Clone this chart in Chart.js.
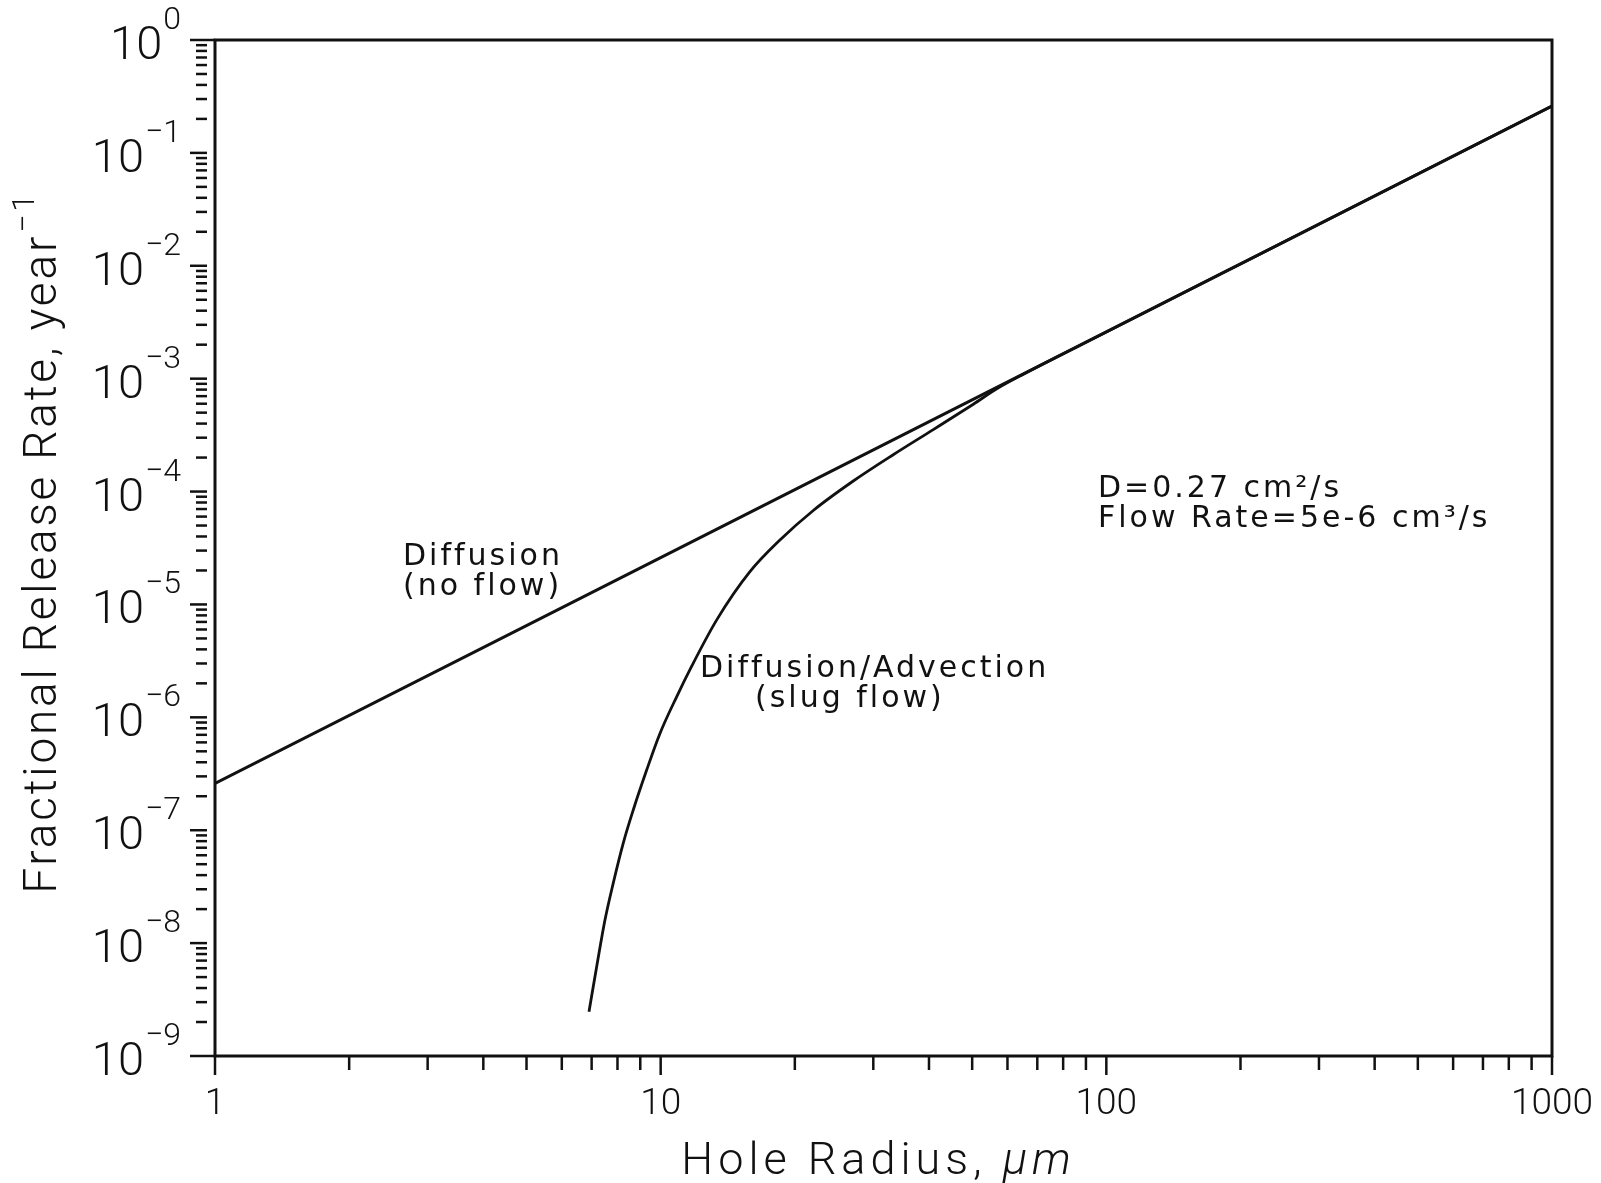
<!DOCTYPE html>
<html>
<head>
<meta charset="utf-8">
<script src="https://cdn.jsdelivr.net/npm/chart.js@4.4.1/dist/chart.umd.min.js"></script>
<style>
  html, body { margin: 0; padding: 0; background: #fff; }
  #wrap { width: 1601px; height: 1183px; }
</style>
</head>
<body>
<div id="wrap"><canvas id="releaseChart"></canvas></div>
<script>
// hole radius (um) vs fractional release rate (1/year)
const diffusionRadius = [1, 10, 100, 1000];
const diffusionRate = [2.6e-7, 2.6e-5, 2.6e-3, 2.6e-1];

const advectionRadius = [6.905, 7.186, 7.499, 7.827, 8.243, 8.679, 9.302, 9.964, 10.86, 11.74, 13.36, 15.86,
    18.52, 22.0, 27.05, 33.25, 40.9, 50.3, 57, 65, 100, 200, 500, 1000];
const advectionRate = [2.47e-9, 6.2e-9, 1.6e-8, 3.4e-8, 7.7e-8, 1.51e-7, 3.41e-7, 7.2e-7, 1.52e-6, 2.84e-6, 7.3e-6, 1.95e-5,
    3.72e-5, 6.8e-5, 1.24e-4, 2.12e-4, 3.54e-4, 5.94e-4, 8.2e-4, 1.09e-3, 2.59e-3, 1.038e-2, 6.49e-2, 2.6e-1];

const xTickValues = [1, 10, 100, 1000];
const xTickLabels = ['1', '10', '100', '1000'];
const yTickExponents = [0, -1, -2, -3, -4, -5, -6, -7, -8, -9];
const minorSteps = [2, 3, 4, 5, 6, 7, 8, 9];

const INK = '#111';
const LABEL_FONT = 'Roboto, "Open Sans", sans-serif';
const NOTE_FONT = '"DejaVu Sans", sans-serif';

function toPoints(xs, ys) {
    return xs.map((v, i) => ({ x: v, y: ys[i] }));
}

// axes, tick labels, titles and notes are drawn by hand to get the old plotter look
const scanAxes = {
    id: 'scanAxes',
    afterDraw(chart) {
        const ctx = chart.ctx;
        const a = chart.chartArea;
        const x = chart.scales.x;
        const y = chart.scales.y;
        ctx.save();
        ctx.strokeStyle = INK;
        ctx.fillStyle = INK;

        // frame
        ctx.lineWidth = 3;
        ctx.strokeRect(a.left, a.top, a.right - a.left, a.bottom - a.top);

        // x ticks (outside, pointing down)
        ctx.lineWidth = 2.5;
        xTickValues.forEach((v, i) => {
            const px = x.getPixelForValue(v);
            ctx.beginPath();
            ctx.moveTo(px, a.bottom);
            ctx.lineTo(px, a.bottom + 19);
            ctx.stroke();
            if (i < xTickValues.length - 1) {
                minorSteps.forEach(m => {
                    const mx = x.getPixelForValue(v * m);
                    ctx.beginPath();
                    ctx.moveTo(mx, a.bottom);
                    ctx.lineTo(mx, a.bottom + 14);
                    ctx.stroke();
                });
            }
        });

        // y ticks (outside, slightly detached from the axis)
        yTickExponents.forEach((e, i) => {
            const py = y.getPixelForValue(Math.pow(10, e));
            const edge = (i === 0 || i === yTickExponents.length - 1);
            ctx.beginPath();
            ctx.moveTo(a.left - 25, py);
            ctx.lineTo(edge ? a.left : a.left - 8, py);
            ctx.stroke();
            if (e > -9) {
                minorSteps.forEach(m => {
                    const my = y.getPixelForValue(Math.pow(10, e - 1) * m);
                    ctx.beginPath();
                    ctx.moveTo(a.left - 19, my);
                    ctx.lineTo(a.left - 8, my);
                    ctx.stroke();
                });
            }
        });

        // y tick labels 10^n
        ctx.textBaseline = 'alphabetic';
        ctx.textAlign = 'left';
        yTickExponents.forEach(e => {
            const py = y.getPixelForValue(Math.pow(10, e));
            const sup = e === 0 ? '0' : '\u2212' + Math.abs(e);
            ctx.font = '300 47px ' + LABEL_FONT;
            const wBase = ctx.measureText('10').width;
            ctx.font = '300 32px ' + LABEL_FONT;
            const wSup = ctx.measureText(sup).width;
            const right = a.left - 34;
            ctx.font = '300 47px ' + LABEL_FONT;
            ctx.fillText('10', right - wSup - wBase - 1, py + 19);
            ctx.font = '300 32px ' + LABEL_FONT;
            ctx.fillText(sup, right - wSup, py - 11);
        });

        // x tick labels
        ctx.font = '300 37px ' + LABEL_FONT;
        ctx.textAlign = 'center';
        xTickValues.forEach((v, i) => {
            ctx.fillText(xTickLabels[i], x.getPixelForValue(v), a.bottom + 58);
        });

        // x title
        ctx.letterSpacing = '5px';
        ctx.font = '300 45px ' + LABEL_FONT;
        const xt1 = 'Hole Radius, ';
        const w1 = ctx.measureText(xt1).width;
        ctx.font = 'italic 300 45px ' + LABEL_FONT;
        const w2 = ctx.measureText('\u03bcm').width;
        const xStart = (a.left + a.right) / 2 - 5 - (w1 + w2) / 2;
        ctx.textAlign = 'left';
        ctx.font = '300 45px ' + LABEL_FONT;
        ctx.fillText(xt1, xStart, a.bottom + 118);
        ctx.font = 'italic 300 45px ' + LABEL_FONT;
        ctx.fillText('\u03bcm', xStart + w1, a.bottom + 118);

        // y title, rotated
        ctx.save();
        ctx.letterSpacing = '2.8px';
        ctx.translate(56, (a.top + a.bottom) / 2 - 5);
        ctx.rotate(-Math.PI / 2);
        ctx.font = '300 46px ' + LABEL_FONT;
        const yt = 'Fractional Release Rate, year';
        const wy = ctx.measureText(yt).width;
        ctx.font = '300 32px ' + LABEL_FONT;
        const wys = ctx.measureText('\u22121').width;
        const ys = -(wy + wys) / 2;
        ctx.font = '300 46px ' + LABEL_FONT;
        ctx.fillText(yt, ys, 0);
        ctx.font = '300 32px ' + LABEL_FONT;
        ctx.fillText('\u22121', ys + wy + 1, -22);
        ctx.restore();

        // curve labels and parameters
        ctx.font = '30px ' + NOTE_FONT;
        ctx.letterSpacing = '3px';
        ctx.textAlign = 'left';
        ctx.fillText('Diffusion', 403, 565);
        ctx.fillText('(no flow)', 403, 595);
        ctx.fillText('Diffusion/Advection', 700, 677);
        ctx.fillText('(slug flow)', 755, 707);
        ctx.fillText('D=0.27 cm\u00b2/s', 1098, 497);
        ctx.fillText('Flow Rate=5e-6 cm\u00b3/s', 1098, 527);
        ctx.restore();
    }
};

new Chart(document.getElementById('releaseChart'), {
    type: 'line',
    data: {
        datasets: [{
            label: 'Diffusion (no flow)',
            data: toPoints(diffusionRadius, diffusionRate),
            borderColor: INK,
            borderWidth: 3,
            pointRadius: 0,
            tension: 0
        }, {
            label: 'Diffusion/Advection (slug flow)',
            data: toPoints(advectionRadius, advectionRate),
            borderColor: INK,
            borderWidth: 2.8,
            pointRadius: 0,
            cubicInterpolationMode: 'monotone'
        }]
    },
    options: {
        responsive: true,
        maintainAspectRatio: false,
        animation: false,
        layout: { padding: { left: 215, top: 40, right: 49, bottom: 127 } },
        scales: {
            x: { type: 'logarithmic', min: 1, max: 1000, display: false },
            y: { type: 'logarithmic', min: 1e-9, max: 1, display: false }
        },
        plugins: {
            legend: { display: false },
            tooltip: { enabled: false }
        }
    },
    plugins: [scanAxes]
});
</script>
</body>
</html>
